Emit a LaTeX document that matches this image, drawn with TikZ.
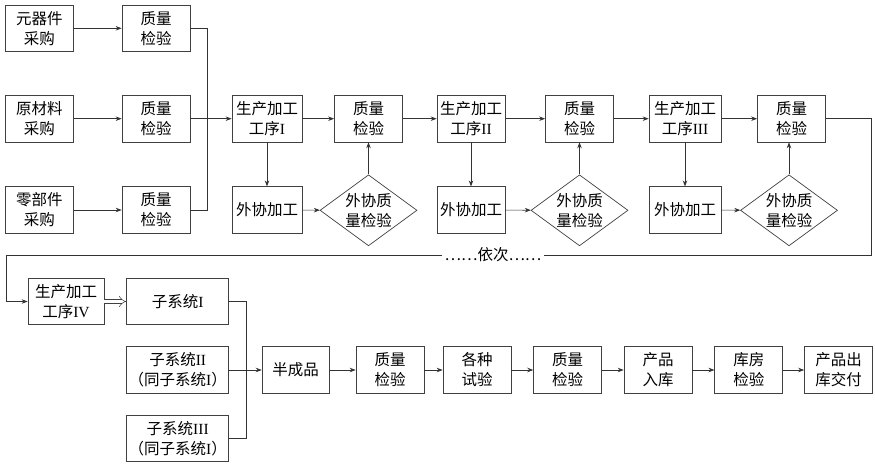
\documentclass[tikz,border=0pt]{standalone}
\usepackage{fontspec}
\setmainfont{Noto Sans CJK SC}
\newfontfamily\latin{Liberation Serif}
\usepackage{tikz}
\usetikzlibrary{shapes.geometric,arrows.meta}
\newcommand{\rn}[1]{{\latin #1}}

\begin{document}
\begin{tikzpicture}[x=1pt,y=-1pt,>={Stealth[length=6pt,width=4.5pt]},
    every node/.style={font=\fontsize{15.5}{20}\selectfont,align=center},
    box/.style={draw=black!75,rectangle,line width=0.7pt,minimum width=68pt,minimum height=46.5pt,inner sep=1pt},
    dia/.style={draw=black!75,diamond,line width=0.7pt,aspect=1.4,inner sep=0pt,minimum width=97pt,minimum height=71pt},
    line/.style={draw=black!80,line width=0.7pt}]
  \useasboundingbox (0,0) rectangle (875,467);
  % purchase and incoming inspection
  \node[box] (buyA) at (39.5,28.3) {元器件\\采购};
  \node[box] (buyB) at (39.5,118.7) {原材料\\采购};
  \node[box] (buyC) at (39.5,210) {零部件\\采购};
  \node[box] (chkA) at (156,28.3) {质量\\检验};
  \node[box] (chkB) at (156,118.7) {质量\\检验};
  \node[box] (chkC) at (156,210) {质量\\检验};
  % processes I--III
  \node[box,minimum width=70pt] (procA) at (267,118.7) {生产加工\\工序\rn{I}};
  \node[box,minimum width=70pt] (outA) at (267,210) {外协加工};
  \node[dia] (ochkA) at (368.5,210.3) {外协质\\量检验};
  \node[box] (qualA) at (368.5,118.7) {质量\\检验};
  \node[box] (procB) at (471,118.7) {生产加工\\工序\rn{II}};
  \node[box] (outB) at (471,210) {外协加工};
  \node[dia] (ochkB) at (579.5,210.3) {外协质\\量检验};
  \node[box] (qualB) at (579.5,118.7) {质量\\检验};
  \node[box,minimum width=72pt] (procC) at (685,118.7) {生产加工\\工序\rn{III}};
  \node[box,minimum width=72pt] (outC) at (685,210) {外协加工};
  \node[dia] (ochkC) at (789,210.3) {外协质\\量检验};
  \node[box] (qualC) at (791.5,118.7) {质量\\检验};
  \coordinate (jA) at (207.3,118.7);
  \coordinate (backA) at (871.7,255);
  \coordinate (backB) at (6,255);
  % process IV and subsystems
  \node[box,minimum width=76pt] (procD) at (66,301.5) {生产加工\\工序\rn{IV}};
  \node[box,minimum width=102pt] (subA) at (177.7,301.5) {子系统\rn{I}};
  \node[box,minimum width=102pt] (subB) at (177.7,370) {子系统\rn{II}\\（同子系统\rn{I}）};
  \node[box,minimum width=102pt] (subC) at (177.7,438.3) {子系统\rn{III}\\（同子系统\rn{I}）};
  \coordinate (jB) at (246.7,370);
  % final line
  \node[box,minimum width=67pt] (semi) at (295.6,370) {半成品};
  \node[box] (qualD) at (390,370) {质量\\检验};
  \node[box] (test) at (477,370) {各种\\试验};
  \node[box] (qualE) at (567.6,370) {质量\\检验};
  \node[box] (store) at (658,370) {产品\\入库};
  \node[box] (schk) at (748.8,370) {库房\\检验};
  \node[box] (ship) at (838.5,370) {产品出\\库交付};

  \draw[line] (chkA.east) -| (jA) |- (chkC.east);
  \draw[line,->] (buyA) -- (chkA);
  \draw[line,->] (buyB) -- (chkB);
  \draw[line,->] (buyC) -- (chkC);
  \draw[line,->] (chkB) -- (procA);
  \foreach \p/\o/\d/\q in {procA/outA/ochkA/qualA,procB/outB/ochkB/qualB,procC/outC/ochkC/qualC} {
    \draw[line,->] (\p) -- (\q);
    \draw[line,->] (\p) -- (\o);
    \draw[line,->] (\o) -- (\d);
    \draw[line,->] (\d.north) -- (\d.north |- \q.south);
  }
  \draw[line,->] (qualA) -- (procB);
  \draw[line,->] (qualB) -- (procC);
  \draw[line,->] (qualC.east) -| (backA) -- (backB) |- (procD.west);
  \node[fill=white,inner sep=3pt] (order) at (493,255) {……依次……};
  \draw[black!75,line width=0.5pt,double=white,double distance=3.5pt,-{Implies}] (procD) -- (subA);
  \draw[line] (subA.east) -| (jB) |- (subC.east);
  \draw[line,->] (subB) -- (semi);
  \draw[line,->] (semi) -- (qualD);
  \draw[line,->] (qualD) -- (test);
  \draw[line,->] (test) -- (qualE);
  \draw[line,->] (qualE) -- (store);
  \draw[line,->] (store) -- (schk);
  \draw[line,->] (schk) -- (ship);
\end{tikzpicture}
\end{document}
